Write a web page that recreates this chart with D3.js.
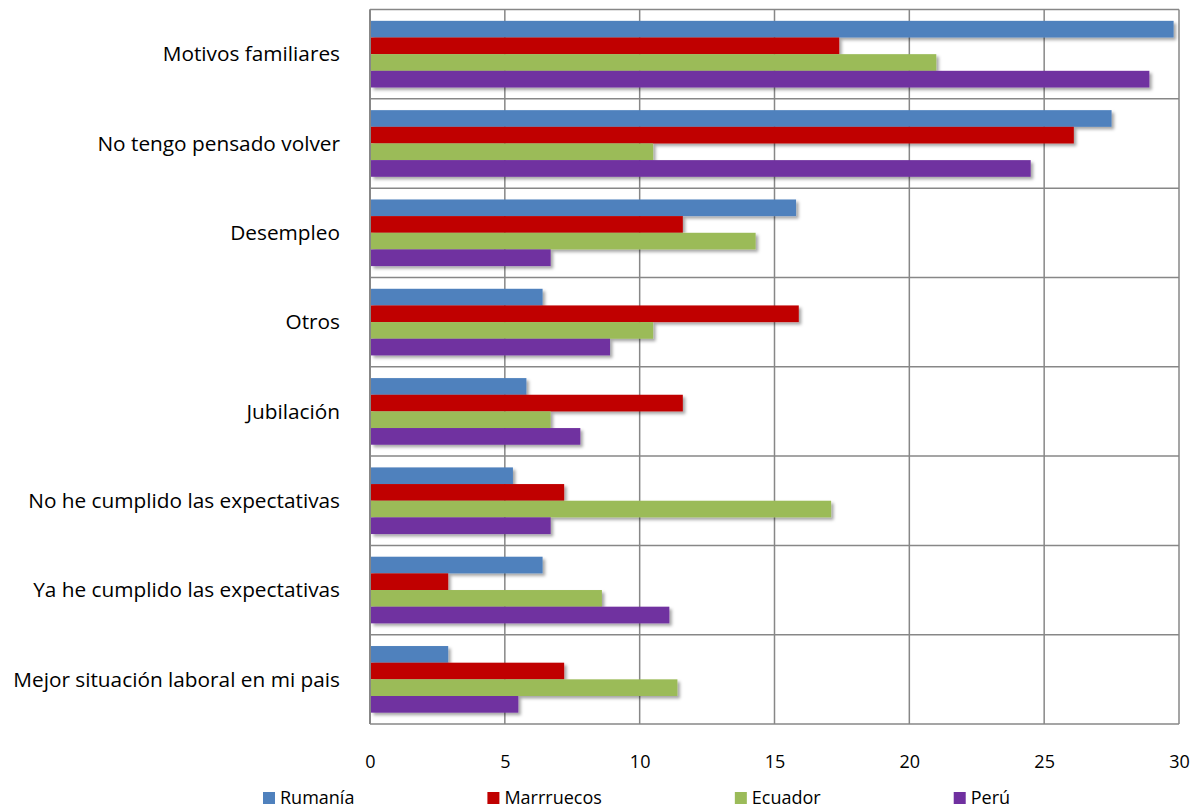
<!DOCTYPE html>
<html><head><meta charset="utf-8">
<script src="https://cdn.jsdelivr.net/npm/d3@7"></script>
<style>
html,body{margin:0;padding:0;background:#fff;}
text{font-family:"Open Sans",Lato,sans-serif;fill:#000;}
</style></head>
<body>
<svg id="chart" width="1199" height="810"></svg>
<script>
const categories = ["Motivos familiares","No tengo pensado volver","Desempleo","Otros","Jubilación","No he cumplido las expectativas","Ya he cumplido las expectativas","Mejor situación laboral en mi pais"];
const seriesNames = ["Rumanía","Marrruecos","Ecuador","Perú"];
const rumania   = [29.8,27.5,15.8,6.4,5.8,5.3,6.4,2.9];
const marruecos = [17.4,26.1,11.6,15.9,11.6,7.2,2.9,7.2];
const ecuador   = [21.0,10.5,14.3,10.5,6.7,17.1,8.6,11.4];
const peru      = [28.9,24.5,6.7,8.9,7.8,6.7,11.1,5.5];
const xTicks = [0,5,10,15,20,25,30];
const seriesColors = ["#4F81BD","#C00000","#9BBB59","#7030A0"];

const values = [rumania, marruecos, ecuador, peru];

(function(){
const svg = d3.select("#chart");
const pL = 370, pR = 1179, pT = 9.5, pB = 724;

const defs = svg.append("defs");
const f = defs.append("filter").attr("id","sh").attr("x","-5%").attr("y","-30%").attr("width","115%").attr("height","190%");
f.append("feDropShadow").attr("dx",2.5).attr("dy",2.5).attr("stdDeviation",1.8).attr("flood-color","#000").attr("flood-opacity",0.35);

const x = d3.scaleLinear().domain([0,30]).range([pL,pR]);
const y0 = d3.scaleBand().domain(categories).range([pT,pB]).paddingInner(0.254).paddingOuter(0.127);
const y1 = d3.scaleBand().domain(seriesNames).range([0,y0.bandwidth()]);

const gridColor = "#878787";
svg.append("g").selectAll("line").data(xTicks).join("line")
  .attr("x1",d=>x(d)).attr("x2",d=>x(d)).attr("y1",pT).attr("y2",pB)
  .attr("stroke",gridColor).attr("stroke-width",1.5);
const step = y0.step();
const hb = d3.range(categories.length+1).map(i=>pT+i*step);
svg.append("g").selectAll("line").data(hb).join("line")
  .attr("x1",pL).attr("x2",pR).attr("y1",d=>d).attr("y2",d=>d)
  .attr("stroke",gridColor).attr("stroke-width",1.5);

const rows = [];
categories.forEach((c,i)=>seriesNames.forEach((s,j)=>rows.push({c,s,v:values[j][i],color:seriesColors[j]})));
svg.append("g").attr("filter","url(#sh)").selectAll("rect").data(rows).join("rect")
  .attr("x",x(0)+1).attr("y",d=>y0(d.c)+y1(d.s))
  .attr("width",d=>x(d.v)-x(0)-1).attr("height",y1.bandwidth())
  .attr("fill",d=>d.color);

svg.append("line").attr("x1",pL).attr("x2",pL).attr("y1",pT).attr("y2",pB)
  .attr("stroke",gridColor).attr("stroke-width",2);

const xAxis = d3.axisBottom(x).tickValues(xTicks).tickSize(0).tickPadding(0);
const gx = svg.append("g").attr("transform",`translate(0,${pB})`).call(xAxis);
gx.select(".domain").remove();
gx.selectAll("text").attr("y",38).attr("dy","0.35em").style("font-size","18px").style("font-family","'Open Sans', sans-serif").attr("fill","#000");

const yAxis = d3.axisLeft(y0).tickSize(0).tickPadding(0);
const gy = svg.append("g").attr("transform","translate(340,0)").call(yAxis);
gy.select(".domain").remove();
gy.selectAll("text").attr("x",0).attr("dy","0.35em").style("font-size","20.8px").style("font-family","'Open Sans', sans-serif").attr("fill","#000");

// legend: items laid out by measured text width with constant gap
const lg = svg.append("g").selectAll("g").data(seriesNames).join("g");
lg.append("rect").attr("x",0).attr("y",-6).attr("width",12).attr("height",12)
  .attr("fill",(d,i)=>seriesColors[i]);
lg.append("text").attr("x",17).attr("dy","0.35em").style("font-size","18px").text(d=>d);
let cx = 263;
lg.each(function(){
  const w = d3.select(this).select("text").node().getComputedTextLength();
  d3.select(this).attr("transform",`translate(${cx},798)`);
  cx += 17 + w + 133;
});
})();
</script>
</body></html>
